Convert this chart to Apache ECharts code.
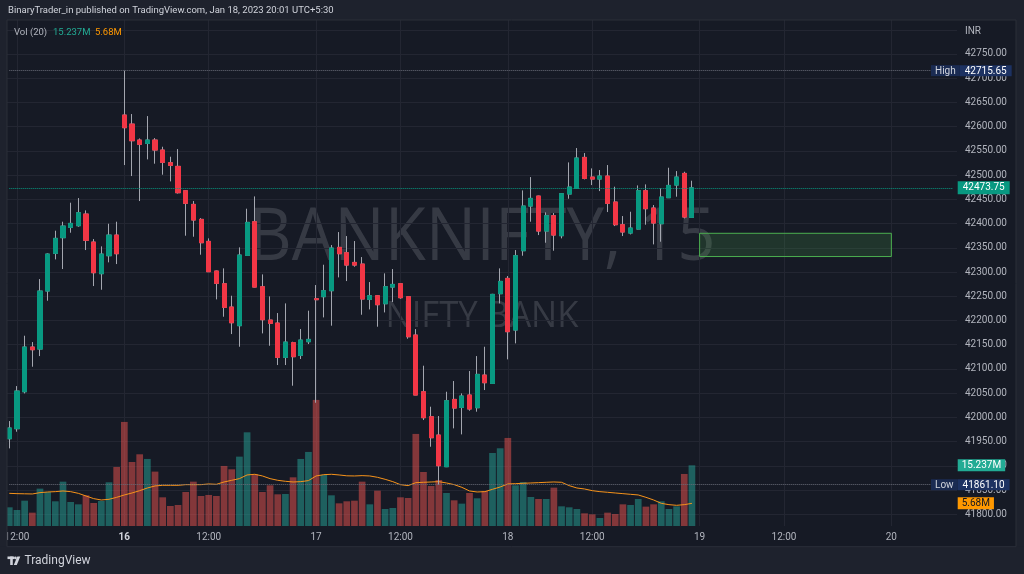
<!DOCTYPE html>
<html><head><meta charset="utf-8">
<script src="https://cdn.jsdelivr.net/npm/echarts@6/dist/echarts.min.js"></script>
<style>html,body{margin:0;padding:0;background:#161a25;}#c{width:1024px;height:574px;}</style>
</head><body><div id="c"></div>
<script>
// ---------- DATA (BANKNIFTY 15m) ----------
const open = [
41956.0,41976.7,42053.0,42145.2,42141.1,42260.8,42338.5,42370.9,42392.2,42395.6,
42419.7,42361.9,42296.6,42333.7,42376.3,42624.0,42605.4,42572.4,42565.5,42572.4,
42551.8,42525.6,42518.1,42467.8,42439.6,42408.7,42363.3,42302.1,42275.9,42227.8,
42189.3,42334.4,42403.9,42269.7,42200.9,42194.7,42123.9,42154.2,42128.0,42156.2,
42245.0,42249.1,42261.5,42350.9,42339.9,42319.9,42316.5,42243.6,42251.1,42234.6,
42269.0,42275.9,42249.1,42170.0,42053.0,42001.4,41963.6,41898.3,42037.2,42020.7,
42046.2,42020.0,42087.4,42070.2,42255.3,42286.9,42180.3,42344.0,42436.2,42456.8,
42384.6,42416.3,42375.0,42461.0,42472.7,42536.6,42496.0,42491.9,42498.1,42444.5,
42397.7,42380.5,42388.7,42467.8,42432.1,42399.7,42453.4,42479.5,42503.6,42412.8];
const close = [
41978.1,42054.4,42145.2,42139.7,42260.8,42337.1,42369.5,42394.9,42400.4,42422.4,
42365.4,42298.6,42337.1,42376.3,42337.8,42597.9,42571.0,42563.5,42572.4,42551.8,
42526.3,42520.1,42463.7,42441.7,42407.3,42360.5,42300.7,42276.6,42227.1,42195.4,
42335.1,42402.5,42269.0,42201.6,42194.1,42123.9,42155.5,42125.3,42159.6,42161.0,
42242.9,42261.5,42349.5,42337.8,42314.4,42314.4,42244.3,42251.1,42232.6,42269.7,
42274.5,42247.0,42166.5,42046.2,41999.4,41958.1,41900.3,42034.5,42019.3,42044.1,
42017.3,42088.8,42071.6,42253.9,42280.7,42176.9,42333.7,42436.2,42452.0,42384.6,
42416.3,42376.3,42461.7,42475.4,42535.3,42493.3,42491.9,42498.1,42441.7,42397.7,
42382.6,42390.8,42467.8,42430.7,42401.1,42454.8,42478.8,42496.0,42413.5,42473.75];
const high = [
41992.5,42064.7,42168.6,42155.5,42285.5,42338.5,42385.3,42403.9,42443.1,42452.7,
42427.3,42368.1,42353.0,42399.7,42403.9,42715.65,42626.1,42575.8,42621.9,42576.5,
42558.6,42538.0,42553.8,42469.2,42446.5,42411.4,42369.5,42303.0,42307.6,42251.1,
42350.9,42430.7,42456.1,42295.2,42249.8,42215.4,42235.3,42156.2,42182.4,42220.2,
42273.2,42315.1,42355.7,42382.5,42374.3,42364.0,42330.9,42279.4,42252.5,42297.3,
42306.2,42276.5,42250.0,42182.4,42106.7,42022.1,42002.8,42053.0,42075.1,42049.6,
42095.7,42126.6,42145.9,42255.0,42307.6,42291.7,42345.4,42468.5,42496.0,42457.5,
42423.1,42421.8,42463.0,42526.3,42555.9,42545.6,42513.9,42510.5,42520.8,42476.1,
42415.6,42424.5,42478.8,42480.9,42438.3,42472.7,42515.3,42508.4,42507.0,42488.5];
const low = [
41936.1,41970.5,42049.6,42104.6,42126.6,42240.8,42326.1,42306.2,42381.2,42393.5,
42345.4,42271.1,42263.5,42320.0,42316.5,42520.8,42498.1,42446.5,42532.5,42523.6,
42500.9,42487.1,42462.0,42375.0,42372.9,42335.8,42300.0,42243.6,42207.8,42172.0,
42145.9,42334.0,42268.5,42173.4,42147.9,42108.1,42108.1,42065.4,42120.5,42151.4,
42030.3,42206.4,42189.3,42289.0,42281.4,42311.0,42211.9,42222.9,42187.2,42216.7,
42238.1,42245.0,42162.4,42046.0,41994.6,41939.5,41861.1,41897.5,41977.4,41965.0,
42013.8,42011.8,42056.5,42069.0,42235.3,42119.8,42152.8,42333.7,42403.9,42376.3,
42360.5,42344.0,42369.5,42451.3,42472.0,42491.2,42479.5,42467.1,42423.8,42394.9,
42374.3,42377.7,42388.0,42397.7,42357.1,42362.6,42453.0,42455.5,42410.7,42412.0];
// volume in millions
const volume = [
4.69,4.02,6.36,3.35,9.38,8.54,6.20,11.13,6.03,5.44,
7.70,5.78,6.28,10.97,14.82,26.12,16.07,18.00,16.83,13.65,
7.20,5.02,5.27,8.54,11.13,7.53,7.79,7.53,15.07,14.23,
17.41,23.52,12.98,8.54,10.21,7.95,8.04,12.22,16.83,18.59,
31.65,12.81,7.70,5.69,6.20,6.36,11.13,5.44,8.87,4.27,
4.52,7.20,7.03,23.11,13.56,10.05,11.55,8.29,6.45,5.61,
8.29,6.95,8.79,18.33,19.51,22.10,10.21,11.05,7.28,6.78,
6.78,9.63,4.94,4.69,4.27,3.18,2.93,2.01,3.35,3.01,
5.44,5.27,6.78,4.86,5.44,6.20,4.27,4.94,13.06,15.237];
// Vol MA(20), millions
const volMA = [
8.20,8.12,8.08,8.04,8.37,8.54,8.62,8.79,8.62,8.20,
7.53,6.87,6.53,6.70,7.20,7.79,8.29,8.87,9.54,10.05,
10.21,10.21,10.21,10.38,10.38,10.38,10.55,10.46,11.05,11.47,
11.89,12.81,12.98,12.56,11.89,11.47,11.22,11.05,11.13,11.39,
12.56,12.89,12.98,12.81,12.60,12.56,12.64,12.56,12.22,11.72,
11.13,10.38,10.13,10.88,10.97,11.05,11.13,10.80,10.38,9.71,
8.79,8.54,8.62,9.21,9.79,10.55,10.63,10.72,10.80,10.88,
10.97,11.05,10.97,10.13,9.54,9.29,8.87,8.62,8.46,8.29,
8.12,7.95,7.79,7.20,6.53,5.69,5.36,5.19,5.36,5.68];
// time axis
const sessionDays = ['13','16','17','18','19','20'];
const firstBarOfFirstDay = 10;   // 11:45 on the 13th
const totalSlots = 124;
const tickIdx  = [1, 15, 26, 40, 51, 65, 76, 90, 101, 115];
const tickText = ['12:00','16','12:00','17','12:00','18','12:00','19','12:00','20'];
const boldTicks = ['16'];
// price axis
const priceMin = 41750, priceMax = 42850, priceStep = 50;
const priceLabelMin = 41800, priceLabelMax = 42750;
// demand zone
const zoneFrom = 90, zoneTo = 115, zoneTop = 42380, zoneBottom = 42332;

// ---------- build categories ----------
const categories = [];
for (let d = 0; d < sessionDays.length && categories.length < totalSlots; d++) {
  for (let b = (d === 0 ? firstBarOfFirstDay : 0); b < 25 && categories.length < totalSlots; b++) {
    const m = 9 * 60 + 15 + 15 * b;
    categories.push(sessionDays[d] + ' ' + String(Math.floor(m / 60)).padStart(2, '0') + ':' + String(m % 60).padStart(2, '0'));
  }
}

// ---------- styles ----------
const UP = '#089981', DOWN = '#f23645', WICK = '#a3a6af';
const UPV = 'rgba(38,166,154,0.5)', DOWNV = 'rgba(239,83,80,0.5)';
const GRIDC = '#232632', TXT = '#b2b5be', FRAME = '#1e222d', PANE = '#161a25';
const FONT = 'Roboto, "Noto Sans", sans-serif';
const NOLINE = 'rgba(0,0,0,0)';

const X0 = 9.3, STEP = 7.67;
const gridLeft = X0, gridRight = 1024 - (X0 + STEP * (totalSlots - 1));
const pTop = 5.54, pBottom = 574 - 538.56;

const candleData = open.map((o, i) => [o, close[i], low[i], high[i]]);
const bodyData = open.map((o, i) => [o, close[i], Math.min(o, close[i]), Math.max(o, close[i])]);
const volData = volume.map((v, i) => ({ value: v, itemStyle: { color: close[i] >= open[i] ? UPV : DOWNV } }));

const maxHigh = Math.max(...high), minLow = Math.min(...low);
const last = close[close.length - 1];
const lastVol = volume[volume.length - 1], lastMA = volMA[volMA.length - 1];

const chart = echarts.init(document.getElementById('c'), null, { renderer: 'canvas' });

function measure(text, font) {
  const ctx = document.createElement('canvas').getContext('2d');
  ctx.font = font; return ctx.measureText(text).width;
}
const wm1 = 'BANKNIFTY, 15', wm2 = 'NIFTY BANK';
const wmFont1 = '74px "Open Sans"', wmFont2 = '37px "Open Sans"';
const s1 = 467 / measure(wm1, wmFont1), s2 = 193 / measure(wm2, wmFont2);

const tagRich = {
  t: { backgroundColor: '#1a2b52', color: '#d1d4dc', fontSize: 10, fontFamily: FONT, lineHeight: 11, padding: [1, 4, 0, 4] },
  v: { backgroundColor: '#1d3262', color: '#ffffff', fontSize: 10, fontFamily: FONT, lineHeight: 11, padding: [1, 5, 0, 5] }
};

const option = {
  backgroundColor: PANE,
  animation: false,
  grid: [
    { left: 7, right: 67, top: pTop, bottom: pBottom, outerBoundsMode: 'none' },
    { left: gridLeft, right: gridRight, top: pTop, bottom: pBottom, outerBoundsMode: 'none' },
    { left: gridLeft, right: gridRight, top: 20, bottom: 48, outerBoundsMode: 'none' }
  ],
  xAxis: [
    { type: 'value', gridIndex: 0, min: 0, max: 1, show: false },
    { type: 'category', gridIndex: 1, data: categories, boundaryGap: false, show: false },
    { type: 'category', gridIndex: 2, data: categories, boundaryGap: false,
      axisLine: { show: false }, axisTick: { show: false },
      splitLine: { show: true, interval: (i) => tickIdx.includes(i), lineStyle: { color: GRIDC, width: 1 } },
      axisLabel: { show: true, interval: (i) => tickIdx.includes(i), margin: 6, color: TXT, fontSize: 10, fontFamily: FONT,
        hideOverlap: false,
        formatter: (v, i) => { const k = tickIdx.indexOf(i); if (k < 0) return ''; const t = tickText[k]; return boldTicks.includes(t) ? '{b|' + t + '}' : t; },
        rich: { b: { fontWeight: 'bold', color: '#d1d4dc', fontSize: 10, fontFamily: FONT } } } }
  ],
  yAxis: [
    { type: 'value', gridIndex: 0, position: 'right', min: priceMin, max: priceMax, interval: priceStep,
      axisLine: { show: false }, axisTick: { show: false },
      splitLine: { show: true, showMinLine: false, showMaxLine: false, lineStyle: { color: GRIDC, width: 1 } },
      axisLabel: { margin: 8, color: TXT, fontSize: 10, fontFamily: FONT, showMinLabel: true, showMaxLabel: true,
        formatter: (v) => (v < priceLabelMin || v > priceLabelMax) ? '' : v.toFixed(2) } },
    { type: 'value', gridIndex: 1, min: priceMin, max: priceMax, show: false, splitLine: { show: false } },
    { type: 'value', gridIndex: 2, min: 0, max: 127, show: false, splitLine: { show: false } }
  ],
  series: [
    { type: 'bar', xAxisIndex: 2, yAxisIndex: 2, data: volData, barWidth: 6.7, clip: false, z: 1,
      markLine: { silent: true, symbol: ['none', 'none'], data: [
        { yAxis: lastVol, lineStyle: { color: NOLINE, width: 1 },
          label: { show: true, position: 'end', distance: 5, formatter: lastVol.toFixed(3) + 'M',
            backgroundColor: '#22ab94', color: '#ffffff', fontSize: 10, fontFamily: FONT, lineHeight: 11, padding: [1, 4, 0, 4] } }
      ] } },
    { type: 'line', xAxisIndex: 2, yAxisIndex: 2, data: volMA, showSymbol: false, symbol: 'none',
      lineStyle: { color: '#f7931a', width: 1 }, z: 1,
      markLine: { silent: true, symbol: ['none', 'none'], data: [
        { yAxis: lastMA, lineStyle: { color: NOLINE, width: 1 },
          label: { show: true, position: 'end', distance: 5, formatter: lastMA.toFixed(2) + 'M',
            backgroundColor: '#ff9800', color: '#131722', fontSize: 10, fontFamily: FONT, lineHeight: 11, padding: [1, 4, 0, 4] } }
      ] } },
    { type: 'candlestick', xAxisIndex: 1, yAxisIndex: 1, data: candleData, barWidth: 4.6, clip: false, z: 3,
      itemStyle: { color: UP, color0: DOWN, borderColor: WICK, borderColor0: WICK, borderWidth: 1 },
      markArea: { silent: true, itemStyle: { color: 'rgba(76,175,80,0.18)', borderColor: '#4caf50', borderWidth: 1 },
        data: [[{ xAxis: categories[zoneFrom], yAxis: zoneTop }, { xAxis: categories[zoneTo], yAxis: zoneBottom }]] },
      markLine: { silent: true, symbol: ['none', 'none'], data: [
        { yAxis: maxHigh, lineStyle: { color: '#6a6d78', type: 'dotted', width: 1 },
          label: { show: true, position: 'end', distance: -21.7, formatter: '{t|High}{v|' + maxHigh.toFixed(2) + '}', rich: tagRich } },
        { yAxis: minLow, lineStyle: { color: '#6a6d78', type: 'dotted', width: 1 },
          label: { show: true, position: 'end', distance: -21.7, formatter: '{t|Low}{v|' + minLow.toFixed(2) + '}', rich: tagRich } },
        { yAxis: last, lineStyle: { color: UP, type: 'dotted', width: 1 },
          label: { show: true, position: 'end', distance: 5, formatter: last.toFixed(2),
            backgroundColor: UP, color: '#ffffff', fontSize: 10, fontFamily: FONT, lineHeight: 12, padding: [1, 5, 0, 5] } }
      ] } },
    { type: 'candlestick', xAxisIndex: 1, yAxisIndex: 1, data: bodyData, barWidth: 4.6, clip: false, z: 4,
      itemStyle: { color: UP, color0: DOWN, borderColor: UP, borderColor0: DOWN, borderWidth: 1 } }
  ],
  graphic: [
    // watermark
    { type: 'text', x: 482, y: 239, scaleX: s1, z: 0, silent: true,
      style: { x: 0, y: 0, text: wm1, font: wmFont1, fill: 'rgba(120,123,134,0.33)', align: 'center', verticalAlign: 'middle' } },
    { type: 'text', x: 482, y: 316, scaleX: s2, z: 0, silent: true,
      style: { x: 0, y: 0, text: wm2, font: wmFont2, fill: 'rgba(120,123,134,0.33)', align: 'center', verticalAlign: 'middle' } },
    // frame
    { type: 'rect', z: 100, silent: true, shape: { x: 0, y: 0, width: 1024, height: 20 }, style: { fill: FRAME } },
    { type: 'rect', z: 100, silent: true, shape: { x: 0, y: 0, width: 7, height: 574 }, style: { fill: FRAME } },
    { type: 'rect', z: 100, silent: true, shape: { x: 1016, y: 0, width: 8, height: 574 }, style: { fill: FRAME } },
    { type: 'rect', z: 100, silent: true, shape: { x: 0, y: 546.7, width: 1024, height: 27.3 }, style: { fill: FRAME } },
    { type: 'rect', z: 101, silent: true, shape: { x: 7, y: 20, width: 1009, height: 526.7 }, style: { fill: null, stroke: '#2a2e39', lineWidth: 1 } },
    // header
    { type: 'text', z: 102, x: 8, y: 11, style: { text: 'BinaryTrader_in published on TradingView.com, Jan 18, 2023 20:01 UTC+5:30', font: '9.5px ' + FONT, fill: '#d1d4dc', verticalAlign: 'middle' } },
    { type: 'text', z: 102, x: 14, y: 33, style: { text: 'Vol (20)', font: '9.5px ' + FONT, fill: TXT, verticalAlign: 'middle' } },
    { type: 'text', z: 102, x: 53, y: 33, style: { text: lastVol.toFixed(3) + 'M', font: '9.5px ' + FONT, fill: '#22ab94', verticalAlign: 'middle' } },
    { type: 'text', z: 102, x: 95, y: 33, style: { text: lastMA.toFixed(2) + 'M', font: '9.5px ' + FONT, fill: '#ff9800', verticalAlign: 'middle' } },
    { type: 'text', z: 102, x: 965, y: 31, style: { text: 'INR', font: '10px ' + FONT, fill: TXT, verticalAlign: 'middle' } },
    // TradingView logo
    { type: 'rect', z: 102, shape: { x: 7.5, y: 556.5, width: 6.5, height: 2.6 }, style: { fill: '#d1d4dc' } },
    { type: 'rect', z: 102, shape: { x: 10.2, y: 556.5, width: 2.6, height: 8.5 }, style: { fill: '#d1d4dc' } },
    { type: 'circle', z: 102, shape: { cx: 15.4, cy: 557.9, r: 1.4 }, style: { fill: '#d1d4dc' } },
    { type: 'polygon', z: 102, shape: { points: [[17.3, 556.5], [20.3, 556.5], [16.8, 565], [13.8, 565]] }, style: { fill: '#d1d4dc' } },
    { type: 'text', z: 102, x: 24.5, y: 561, style: { text: 'TradingView', font: '12px ' + FONT, fill: '#d1d4dc', verticalAlign: 'middle' } }
  ]
};
chart.setOption(option);
</script></body></html>
